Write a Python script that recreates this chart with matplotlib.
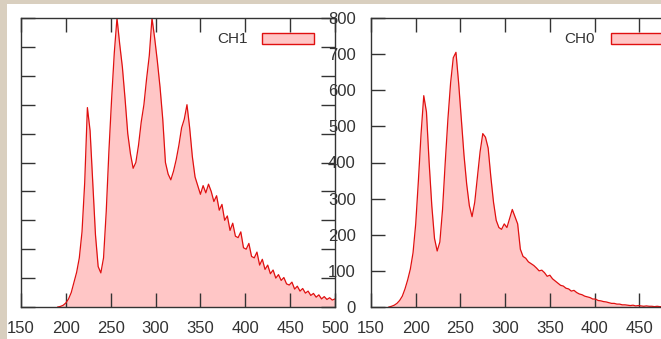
import matplotlib
matplotlib.use("Agg")
import matplotlib.pyplot as plt
from matplotlib.patches import Rectangle
import numpy as np

plt.rcParams['font.family'] = ['Liberation Sans', 'DejaVu Sans']

# channel 1 (left panel), counts
ch1_x = np.arange(191, 501, 3)
ch1_y = [0, 2, 6, 14, 28, 50, 85, 120, 170, 260,
         430, 690, 610, 430, 250, 140, 118, 170, 330, 540,
         720, 880, 1000, 910, 830, 720, 600, 530, 480, 500,
         560, 640, 700, 790, 870, 1000, 930, 850, 760, 650,
         500, 460, 440, 470, 510, 560, 620, 650, 700, 620,
         520, 450, 420, 390, 420, 395, 425, 400, 365, 385,
         335, 355, 300, 315, 265, 290, 245, 240, 260, 205,
         200, 220, 175, 170, 190, 145, 165, 130, 145, 115,
         128, 100, 112, 92, 102, 80, 76, 86, 62, 72,
         55, 64, 48, 55, 40, 47, 34, 42, 28, 36,
         26, 32, 24, 28]

# channel 0 (right panel)
ch0_x = np.arange(170, 501, 3)
ch0_y = [0, 2, 5, 10, 18, 30, 50, 75, 105, 150,
         230, 350, 480, 585, 540, 400, 280, 190, 155, 180,
         270, 400, 520, 620, 690, 705, 620, 520, 420, 340,
         280, 250, 290, 360, 430, 480, 470, 440, 360, 290,
         240, 220, 215, 230, 220, 245, 270, 250, 230, 160,
         140, 135, 125, 120, 115, 108, 100, 102, 95, 85,
         88, 78, 72, 66, 60, 58, 52, 50, 44, 46,
         40, 36, 34, 30, 28, 26, 22, 22, 18, 17,
         15, 14, 12, 10, 10, 8, 8, 6, 6, 5,
         4, 5, 3, 4, 3, 2, 3, 2, 2, 1,
         2, 1, 1, 2, 1, 1, 1, 1, 1, 1,
         1]

W, H = 661, 339
fig = plt.figure(figsize=(W / 100, H / 100), dpi=100, facecolor='#d9cfbf')
bg = Rectangle((7 / W, 0), 1, (H - 4) / H, transform=fig.transFigure,
               facecolor='white', edgecolor='none', zorder=-10)
fig.add_artist(bg)

fill_c = '#ffc6c6'
line_c = '#e01010'
ink = '#333333'

ax1 = fig.add_axes([21 / W, 32 / H, 314 / W, 289 / H])
ax2 = fig.add_axes([371 / W, 32 / H, 313 / W, 289 / H])

for ax, xs, ys, ymax, name, tx in [(ax1, ch1_x, ch1_y, 1000, 'CH1', 0.723),
                                     (ax2, ch0_x, ch0_y, 800, 'CH0', 0.716)]:
    ax.set_facecolor('none')
    ax.fill_between(xs, ys, color=fill_c, lw=0)
    ax.plot(xs, ys, color=line_c, lw=0.9)
    ax.set_xlim(150, 500)
    ax.set_ylim(0, ymax)
    ax.set_xticks(np.arange(150, 501, 50))
    ax.set_yticks(np.arange(0, ymax + 1, 100))
    ax.tick_params(direction='in', length=10, width=1, color=ink,
                   top=True, right=True, labelsize=12, labelcolor=ink)
    ax.tick_params(axis='x', pad=10)
    for s in ax.spines.values():
        s.set_color(ink)
        s.set_linewidth(1)
    # legend key
    ax.text(tx, 0.927, name, transform=ax.transAxes, ha='right', va='center',
            fontsize=11, color=ink)
    ax.add_patch(Rectangle((0.7675, 0.910), 0.166, 0.038, transform=ax.transAxes,
                           facecolor=fill_c, edgecolor=line_c, lw=1, clip_on=False))

ax1.tick_params(axis='y', labelleft=False)
ax2.tick_params(axis='y', pad=11)
ax2.set_xticklabels(['150', '200', '250', '300', '350', '400', '450', ''])

fig.savefig('out.png', dpi=100, facecolor=fig.get_facecolor())
